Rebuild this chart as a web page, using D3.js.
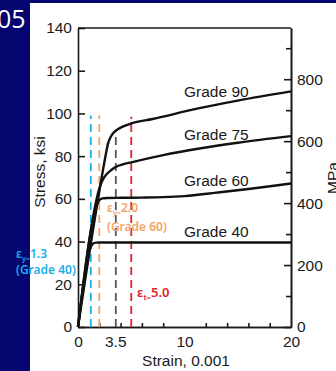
<!DOCTYPE html>
<html>
<head>
<meta charset="utf-8">
<script src="https://cdn.jsdelivr.net/npm/d3@7"></script>
<style>
  body { margin: 0; background: #060670; }
  svg { display: block; }
  text { font-family: "Liberation Sans", Arial, sans-serif; }
</style>
</head>
<body>
<div id="chart"></div>
<script>
// stress-strain curves (strain in 0.001, stress in ksi)
var grade40Strain = [0, 1.2, 1.4, 1.7, 2.2, 20];
var grade40Stress = [0, 37.5, 39.0, 39.5, 39.6, 39.6];
var grade60Strain = [0, 1.85, 2.05, 2.3, 2.7, 4, 6, 8, 10, 13, 16, 20];
var grade60Stress = [0, 58, 59.6, 60.2, 60.4, 60.5, 60.6, 60.8, 61.3, 62.9, 64.6, 67.2];
var grade75Strain = [0, 2.15, 2.4, 2.7, 3.1, 3.5, 4.2, 5, 8, 11.4, 15, 20];
var grade75Stress = [0, 67, 69.6, 71.6, 73.4, 74.8, 76.1, 77.1, 80.5, 83.6, 86.3, 89.4];
var grade90Strain = [0, 2.4, 2.6, 2.8, 3.1, 3.5, 4.2, 5, 7, 11.4, 15, 20];
var grade90Stress = [0, 75, 80.5, 85.5, 89.3, 91.7, 93.8, 95.3, 97.4, 102.5, 106, 110.3];
var gradeNames = ["Grade 90", "Grade 75", "Grade 60", "Grade 40"];

// dashed reference strains
var dashStrain = [1.2, 2.0, 3.55, 5.0];
var dashTop = [99, 99, 92, 98.5];
var dashColor = ["#1daeea", "#f3a466", "#555555", "#e3242b"];

var ksiTicks = [0, 20, 40, 60, 80, 100, 120, 140];
var mpaTicks = [0, 200, 400, 600, 800];
var mpaMinor = [100, 300, 500, 700, 900];
var strainLabels = [0, 3.5, 10, 20];
var strainMinor = [2, 4, 6, 8, 12, 14, 16, 18];

var W = 336, H = 371;
var mLeft = 78, mRight = 291, mTop = 28, mBottom = 327;

var svg = d3.select("#chart").append("svg")
    .attr("width", W).attr("height", H);

svg.append("rect").attr("x", 30).attr("y", 3)
    .attr("width", W - 30).attr("height", H - 3).attr("fill", "#fff");

svg.append("text").attr("x", -3).attr("y", 28)
    .attr("fill", "#fff").style("font-family", "'Open Sans', sans-serif")
    .style("font-size", "25px").text("05");

var x = d3.scaleLinear().domain([0, 20]).range([mLeft, mRight]);
var y = d3.scaleLinear().domain([0, 140]).range([mBottom, mTop]);
var y2 = d3.scaleLinear().domain([0, 140 * 6.895]).range([mBottom, mTop]);

var ink = "#1a1a1a";

function styleAxis(g) {
    g.selectAll("path, line").attr("stroke", ink).attr("stroke-width", 1.6);
    g.selectAll("text").attr("fill", "#1a1a1a").style("font-size", "15.5px");
}

// top border
svg.append("line").attr("x1", mLeft).attr("x2", mRight)
    .attr("y1", mTop).attr("y2", mTop).attr("stroke", ink).attr("stroke-width", 1.6);

svg.append("g").attr("transform", "translate(" + mLeft + ",0)")
    .call(d3.axisLeft(y).tickValues(ksiTicks).tickSizeInner(-7).tickSizeOuter(0).tickPadding(6))
    .call(styleAxis);

svg.append("g").attr("transform", "translate(" + mRight + ",0)")
    .call(d3.axisRight(y2).tickValues(mpaMinor).tickSizeInner(-5).tickSizeOuter(0).tickFormat(""))
    .call(styleAxis);
svg.append("g").attr("transform", "translate(" + mRight + ",0)")
    .call(d3.axisRight(y2).tickValues(mpaTicks).tickSizeInner(-7).tickSizeOuter(0).tickPadding(6))
    .call(styleAxis);

svg.append("g").attr("transform", "translate(0," + mBottom + ")")
    .call(d3.axisBottom(x).tickValues(strainMinor).tickSizeInner(-4).tickSizeOuter(0).tickFormat(""))
    .call(styleAxis);
svg.append("g").attr("transform", "translate(0," + mBottom + ")")
    .call(d3.axisBottom(x).tickValues(strainLabels).tickSizeInner(0).tickSizeOuter(0).tickPadding(9)
        .tickFormat(function(d) { return d; }))
    .call(styleAxis);

// axis titles
svg.append("text").attr("transform", "translate(45,172) rotate(-90)")
    .attr("text-anchor", "middle").attr("fill", "#1a1a1a").style("font-size", "15.5px")
    .text("Stress, ksi");
svg.append("text").attr("x", 186).attr("y", 366)
    .attr("text-anchor", "middle").attr("fill", "#1a1a1a").style("font-size", "15.5px")
    .text("Strain, 0.001");
svg.append("text").attr("transform", "translate(338,178) rotate(-90)")
    .attr("text-anchor", "middle").attr("fill", "#1a1a1a").style("font-size", "15.5px")
    .text("MPa");

// dashed lines
dashStrain.forEach(function(s, i) {
    svg.append("line")
        .attr("x1", x(s)).attr("x2", x(s))
        .attr("y1", y(0)).attr("y2", y(dashTop[i]))
        .attr("stroke", dashColor[i]).attr("stroke-width", 1.8)
        .attr("stroke-dasharray", "8,5");
});

// curves
var line = d3.line()
    .x(function(d) { return x(d[0]); })
    .y(function(d) { return y(d[1]); })
    .curve(d3.curveMonotoneX);

var curves = [
    d3.zip(grade90Strain, grade90Stress),
    d3.zip(grade75Strain, grade75Stress),
    d3.zip(grade60Strain, grade60Stress),
    d3.zip(grade40Strain, grade40Stress)
];

svg.selectAll(".curve").data(curves).enter().append("path")
    .attr("class", "curve")
    .attr("d", line)
    .attr("fill", "none").attr("stroke", "#111").attr("stroke-width", 2.4);

var labelY = [96.5, 140, 186, 237];
svg.selectAll(".glabel").data(gradeNames).enter().append("text")
    .attr("class", "glabel")
    .attr("x", 184).attr("y", function(d, i) { return labelY[i]; })
    .attr("fill", "#1a1a1a").style("font-size", "15.5px")
    .text(function(d) { return d; });

// annotations
function epsLabel(xp, yp, sub, val, color, size) {
    var t = svg.append("text").attr("x", xp).attr("y", yp)
        .attr("fill", color).style("font-family", "'Noto Sans', sans-serif")
        .style("font-weight", 600).style("font-size", size + "px");
    t.append("tspan").text("ε");
    t.append("tspan").attr("dy", 3).style("font-size", (size * 0.6) + "px").text(sub + "=");
    t.append("tspan").attr("dy", -3).text(val);
    return t;
}

epsLabel(16, 258, "y", "1.3", "#1daeea", 12);
svg.append("text").attr("x", 16).attr("y", 274).attr("fill", "#1daeea")
    .style("font-family", "'Noto Sans', sans-serif").style("font-weight", 600)
    .style("font-size", "12px").text("(Grade 40)");

epsLabel(107, 212, "y", "2.0", "#f3a466", 12);
svg.append("text").attr("x", 107).attr("y", 231).attr("fill", "#f3a466")
    .style("font-family", "'Noto Sans', sans-serif").style("font-weight", 600)
    .style("font-size", "12px").text("(Grade 60)");

epsLabel(137, 297, "t", "5.0", "#e3242b", 13);
</script>
</body>
</html>
